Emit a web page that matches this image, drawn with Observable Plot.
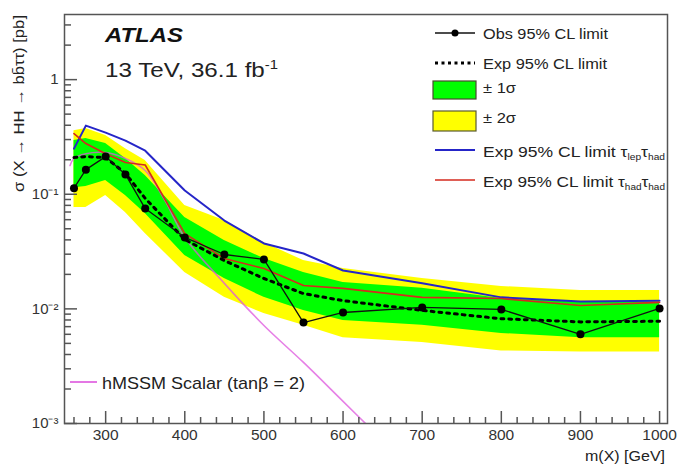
<!DOCTYPE html>
<html><head><meta charset="utf-8">
<script src="https://cdn.jsdelivr.net/npm/d3@7"></script>
<script src="https://cdn.jsdelivr.net/npm/@observablehq/plot@0.6"></script>
<style>
body{margin:0;background:#fff;}
#chart{position:relative;width:678px;height:465px;}
</style></head><body><div id="chart"></div>
<script>
// Resonance masses [GeV]
const mass = [260, 275, 300, 325, 350, 400, 450, 500, 550, 600, 700, 800, 900, 1000];
// Observed 95% CL limit [pb]
const observed = [0.113, 0.164, 0.213, 0.149, 0.075, 0.042, 0.0298, 0.027, 0.0076, 0.0093, 0.0103, 0.0099, 0.0060, 0.0101];
// Expected 95% CL limit [pb]
const expected = [0.209, 0.213, 0.209, 0.152, 0.092, 0.0403, 0.0264, 0.0184, 0.0136, 0.0118, 0.0097, 0.0082, 0.0077, 0.0078];
const plus2 = [0.359, 0.374, 0.325, 0.250, 0.197, 0.0797, 0.0590, 0.0379, 0.0264, 0.0225, 0.0184, 0.0157, 0.0145, 0.0145];
const plus1 = [0.294, 0.306, 0.277, 0.205, 0.146, 0.0626, 0.0395, 0.0275, 0.0208, 0.0170, 0.0151, 0.0123, 0.0114, 0.0114];
const minus1 = [0.114, 0.117, 0.132, 0.0975, 0.0679, 0.0292, 0.0184, 0.0126, 0.0097, 0.0079, 0.0072, 0.0061, 0.0056, 0.0056];
const minus2 = [0.0766, 0.0766, 0.0975, 0.0693, 0.0454, 0.0208, 0.0126, 0.0091, 0.0072, 0.0056, 0.0051, 0.0043, 0.0042, 0.0042];
// Expected limits of the individual channels [pb]
const lepHad = [0.250, 0.397, 0.345, 0.294, 0.240, 0.108, 0.059, 0.0372, 0.0304, 0.0216, 0.0167, 0.0126, 0.0116, 0.0118];
const hadHad = [0.338, 0.277, 0.226, 0.189, 0.180, 0.0454, 0.0275, 0.0225, 0.0160, 0.0151, 0.0126, 0.0123, 0.0107, 0.0114];
// hMSSM scalar (tanβ = 2) prediction
const hmssmMass = [255, 260, 275, 300, 325, 350, 375, 400, 450, 500, 550, 600, 650];
const hmssmXsec = [0.178, 0.205, 0.226, 0.231, 0.205, 0.161, 0.0881, 0.0419, 0.0167, 0.00716, 0.00341, 0.00156, 0.000713];
// Axis ticks
const xMajor = [300, 400, 500, 600, 700, 800, 900, 1000];
const yMajor = [0.001, 0.01, 0.1, 1];
const yLabels = ["10\u207B\u00B3", "10\u207B\u00B2", "10\u207B\u00B9", "1"];

const xMinor = d3.range(260, 1010, 20).filter(v => !xMajor.includes(v));
const yMinor = [];
for (const dec of [0.001, 0.01, 0.1, 1]) for (let k = 2; k <= 9; k++) { const v = dec * k; if (v < 3.7) yMinor.push(v); }

const rows = mass.map((m, i) => ({m, obs: observed[i], exp: expected[i], u2: plus2[i], u1: plus1[i], d1: minus1[i], d2: minus2[i], lh: lepHad[i], hh: hadHad[i]}));
const pink = hmssmMass.map((m, i) => ({m, v: hmssmXsec[i]}));

const FONT = "Liberation Sans, Arial, Helvetica, sans-serif";
const axisCol = "#555";

const chart = Plot.plot({
  width: 678, height: 465,
  marginLeft: 64, marginRight: 11, marginTop: 14, marginBottom: 42,
  x: {type: "linear", domain: [248, 1010], label: null},
  y: {type: "log", domain: [0.001, 3.7], label: null},
  style: {fontFamily: FONT, fontSize: "15px", color: "#222", background: "white"},
  marks: [
    Plot.areaY(rows, {x: "m", y1: "d2", y2: "u2", fill: "#ffff00"}),
    Plot.areaY(rows, {x: "m", y1: "d1", y2: "u1", fill: "#00ff00"}),
    Plot.line(pink, {x: "m", y: "v", stroke: "#dd55dd", strokeWidth: 1.6, strokeOpacity: 0.75, curve: "catmull-rom", clip: true}),
    Plot.line(rows, {x: "m", y: "lh", stroke: "#2525c8", strokeWidth: 2}),
    Plot.line(rows, {x: "m", y: "hh", stroke: "#d42a1e", strokeWidth: 1.6}),
    Plot.line(rows, {x: "m", y: "exp", stroke: "#000", strokeWidth: 3, strokeDasharray: "2.8,5"}),
    Plot.line(rows, {x: "m", y: "obs", stroke: "#111", strokeWidth: 1.3}),
    Plot.dot(rows, {x: "m", y: "obs", r: 4, fill: "#000"}),
    Plot.axisX({ticks: xMajor, tickSize: -12, tickPadding: 17, tickFormat: d => String(d), stroke: axisCol, strokeWidth: 1.5, fontSize: 15.5, fill: "#333"}),
    Plot.axisX({ticks: xMinor, tickSize: -6, tickFormat: () => "", stroke: axisCol, strokeWidth: 1.5}),
    Plot.axisY({ticks: yMajor, tickSize: -13, tickPadding: 19, tickFormat: d => yLabels[yMajor.findIndex(t => Math.abs(t - d) / t < 1e-6)], stroke: axisCol, strokeWidth: 1.5, fontSize: 15, fill: "#333"}),
    Plot.axisY({ticks: yMinor, tickSize: -7, tickFormat: () => "", stroke: axisCol, strokeWidth: 1.5}),
    Plot.frame({stroke: "#555", strokeWidth: 1.5})
  ]
});
document.getElementById("chart").appendChild(chart);

// Annotations and legends
const svg = d3.select(chart);
const g = svg.append("g").attr("font-family", FONT).attr("fill", "#222").attr("text-anchor", "start");
function txt(x, y, s, size, len, extra) {
  const t = g.append("text").attr("x", x).attr("y", y).attr("font-size", size).attr("text-anchor", "start").text(s);
  if (len) t.attr("textLength", len).attr("lengthAdjust", "spacingAndGlyphs");
  if (extra) extra(t);
  return t;
}
// ATLAS label
txt(105, 42, "ATLAS", 20, 78, t => t.attr("font-weight", "bold").attr("font-style", "italic").attr("fill", "#111"));
const en = g.append("text").attr("x", 105).attr("y", 77).attr("font-size", 19.5).attr("text-anchor", "start").attr("textLength", 173).attr("lengthAdjust", "spacingAndGlyphs");
en.append("tspan").text("13 TeV, 36.1 fb");
en.append("tspan").attr("font-size", 12).attr("dy", -8).text("-1");

// axis titles
txt(665, 461, "m(X) [GeV]", 15, 80, t => t.attr("text-anchor", "end"));
g.append("text").attr("transform", "translate(24,15) rotate(-90)").attr("text-anchor", "end")
  .attr("font-size", 14.5).attr("textLength", 177).attr("lengthAdjust", "spacingAndGlyphs")
  .text("\u03C3 (X \u2192 HH \u2192 bb\u0304\u03C4\u03C4) [pb]");

// top-right legend
const L = g.append("g");
L.append("line").attr("x1", 435).attr("x2", 475).attr("y1", 33).attr("y2", 33).attr("stroke", "#111").attr("stroke-width", 1.3);
L.append("circle").attr("cx", 455).attr("cy", 33).attr("r", 3.5).attr("fill", "#000");
L.append("line").attr("x1", 435).attr("x2", 475).attr("y1", 63).attr("y2", 63).attr("stroke", "#000").attr("stroke-width", 3).attr("stroke-dasharray", "3,3.5");
L.append("rect").attr("x", 433).attr("y", 81).attr("width", 43).attr("height", 18).attr("fill", "#00ff00").attr("stroke", "#4a4a30").attr("stroke-width", 1.2);
L.append("rect").attr("x", 433).attr("y", 111).attr("width", 43).attr("height", 20).attr("fill", "#ffff00").attr("stroke", "#5a5a30").attr("stroke-width", 1.2);
L.append("line").attr("x1", 435).attr("x2", 475).attr("y1", 150).attr("y2", 150).attr("stroke", "#2525c8").attr("stroke-width", 2);
L.append("line").attr("x1", 435).attr("x2", 475).attr("y1", 180).attr("y2", 180).attr("stroke", "#d42a1e").attr("stroke-width", 1.6);
txt(483, 39, "Obs 95% CL limit", 15.5, 125);
txt(483, 69, "Exp 95% CL limit", 15.5, 124);
txt(483, 93, "\u00B1 1\u03C3", 15.5, 33);
txt(483, 123, "\u00B1 2\u03C3", 15.5, 33);
function tauText(y, a, b) {
  const t = g.append("text").attr("x", 483).attr("y", y).attr("font-size", 15.5).attr("text-anchor", "start").attr("textLength", 182).attr("lengthAdjust", "spacingAndGlyphs");
  t.append("tspan").text("Exp 95% CL limit \u03C4");
  t.append("tspan").attr("font-size", 9).attr("dy", 3).text(a);
  t.append("tspan").attr("dy", -3).text("\u03C4");
  t.append("tspan").attr("font-size", 9).attr("dy", 3).text(b);
}
tauText(157, "lep", "had");
tauText(187, "had", "had");

// bottom-left legend
g.append("line").attr("x1", 70).attr("x2", 97).attr("y1", 382).attr("y2", 382).attr("stroke", "#dd55dd").attr("stroke-width", 1.6);
txt(102, 389, "hMSSM Scalar (tan\u03B2 = 2)", 17, 203);
</script>
</body></html>
